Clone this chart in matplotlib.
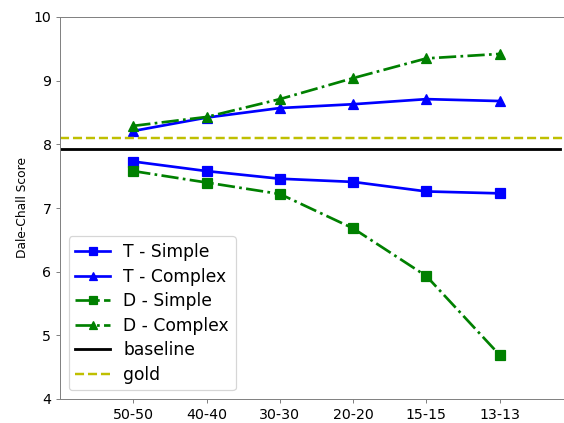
import matplotlib
matplotlib.use("Agg")
import matplotlib.pyplot as plt

categories = ["50-50", "40-40", "30-30", "20-20", "15-15", "13-13"]
t_simple = [7.73, 7.58, 7.46, 7.41, 7.26, 7.23]
t_complex = [8.21, 8.42, 8.57, 8.63, 8.71, 8.68]
d_simple = [7.58, 7.40, 7.22, 6.68, 5.93, 4.69]
d_complex = [8.29, 8.43, 8.71, 9.04, 9.35, 9.42]
baseline = 7.93
gold = 8.10

fig = plt.figure(figsize=(6.4, 4.8), dpi=88.125)
ax = fig.add_axes([60/564, 24/423, 513/564, 382/423])
x = list(range(len(categories)))

ax.plot(x, t_simple, color="blue", linestyle="-", marker="s", lw=2.2, ms=8, label="T - Simple")
ax.plot(x, t_complex, color="blue", linestyle="-", marker="^", lw=2.2, ms=8, label="T - Complex")
ax.plot(x, d_simple, color="green", linestyle="-.", marker="s", lw=2.2, ms=8, label="D - Simple")
ax.plot(x, d_complex, color="green", linestyle="-.", marker="^", lw=2.2, ms=8, label="D - Complex")
ax.axhline(baseline, xmax=0.974, color="black", lw=2.3, label="baseline")
ax.axhline(gold, color="#bfbf00", linestyle="--", lw=2, label="gold")

ax.set_xlim(-1, 6)
ax.set_ylim(4, 10)
ax.set_xticks(x)
ax.set_xticklabels(categories)
ax.set_ylabel("Dale-Chall Score", fontsize=10)
for s in ax.spines.values():
    s.set_color("#808080")
ax.tick_params(axis="both", labelsize=11.5, color="#808080", labelcolor="black")
ax.legend(loc="lower left", fontsize=14, markerscale=0.75, labelspacing=0.38)

fig.savefig("out.png", dpi=88.125)
